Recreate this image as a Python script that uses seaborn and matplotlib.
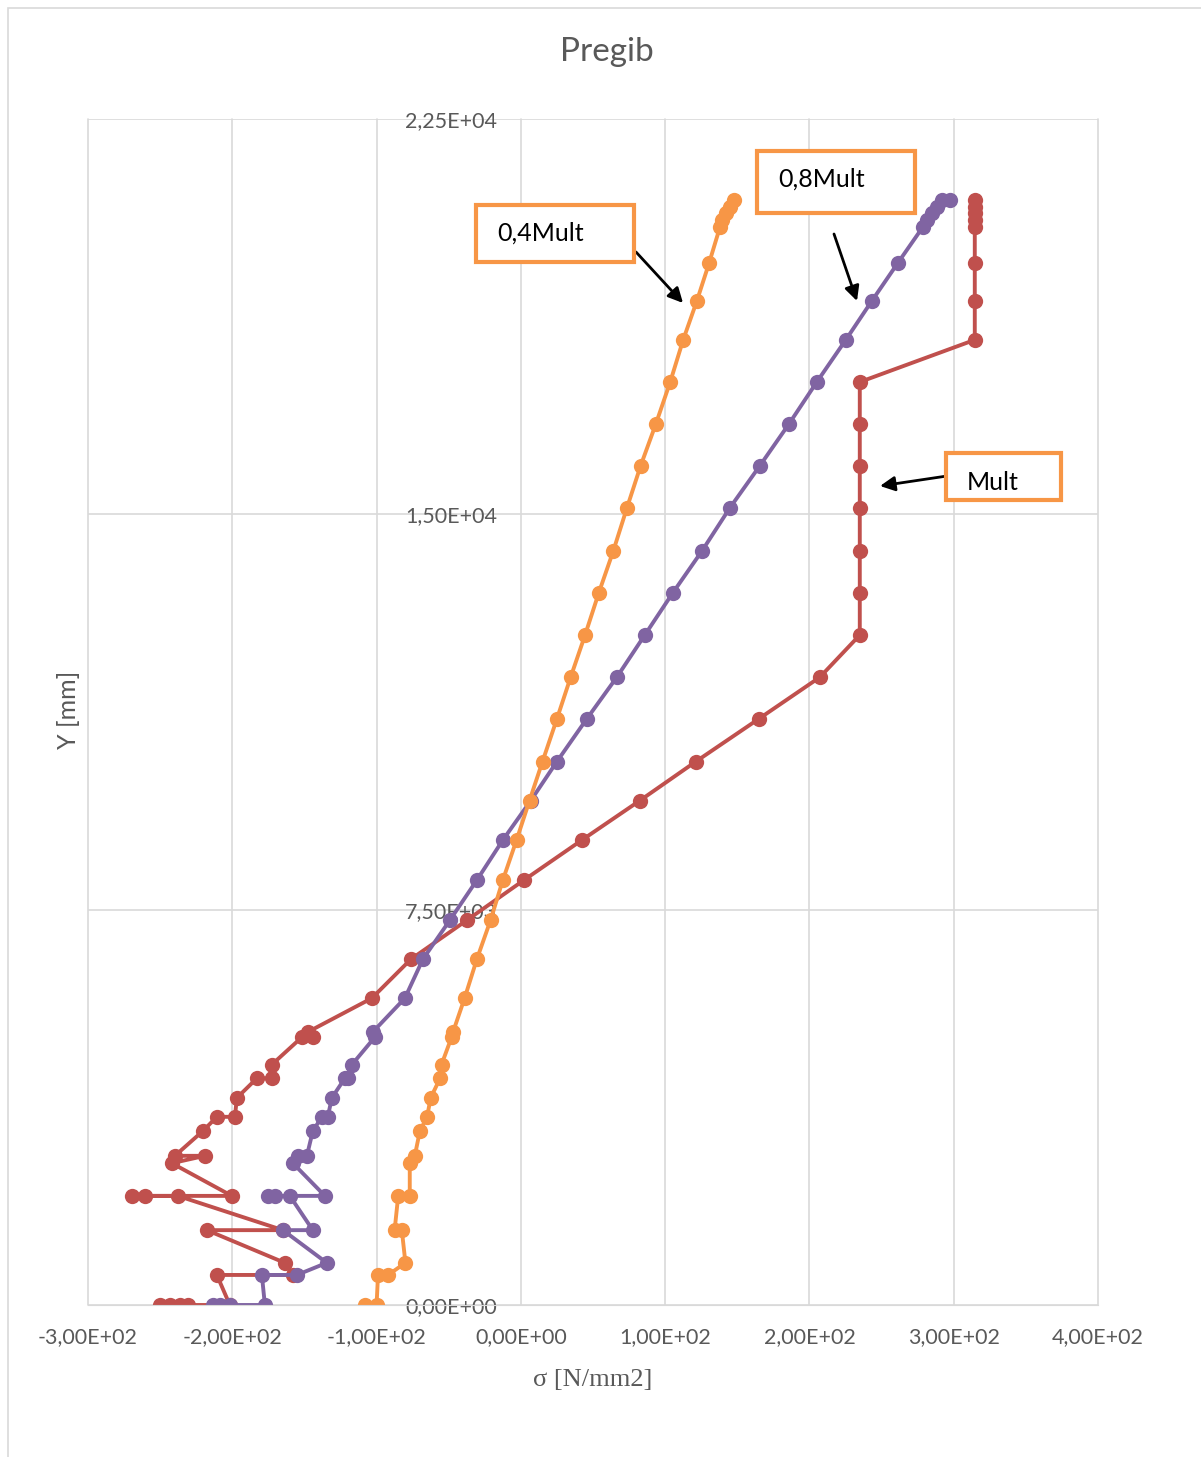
import seaborn as sns
import matplotlib.pyplot as plt
from matplotlib.patches import Rectangle
from matplotlib.ticker import FuncFormatter

# stress sigma [N/mm2] vs height Y [mm], points in path order (bottom -> top)
y_04 = [0, 0, 570, 570, 800, 1420, 1420, 2070, 2070, 2690, 2830, 3300, 3570, 3930,
        4300, 4560, 5080, 5180, 5820, 6560, 7300, 8060, 8820, 9570, 10310, 11120,
        11910, 12710, 13510, 14300, 15120, 15920, 16710, 17510, 18310, 19050, 19770,
        20450, 20580, 20720, 20830, 20960]
sig_04 = [-108, -100, -99, -92, -80, -82.5, -87.5, -85, -77, -77, -73.5, -70, -65, -62.5,
          -56, -55, -48, -47, -39, -30.5, -21, -12.5, -3, 6, 15, 25,
          34.5, 44.5, 54, 64, 73.5, 83, 93.5, 103.5, 112.5, 122, 130.5,
          138, 139.5, 142, 145, 147.5]

y_08 = [0, 0, 0, 0, 570, 570, 800, 1420, 1420, 2070, 2070, 2070, 2070, 2690, 2830, 2830,
        3300, 3570, 3570, 3930, 4300, 4300, 4560, 5080, 5180, 5820, 6560, 7300, 8060,
        8820, 9570, 10310, 11120, 11910, 12710, 13510, 14300, 15120, 15920, 16710,
        17510, 18310, 19050, 19770, 20450, 20580, 20720, 20830, 20960, 20960]
sig_08 = [-213.5, -208.6, -201.7, -177.4, -179.5, -155.2, -134.5, -164.9, -144.2,
          -160.1, -170.5, -175.3, -135.8, -158.0, -154.5, -148.3,
          -144.2, -137.9, -133.8, -131.0, -122.0, -119.9, -117.1, -101.2, -102.6,
          -80.4, -67.9, -49.2, -30.5, -12.5, 6.9, 25.0, 45.7, 66.5, 85.9, 105.3,
          125.4, 144.8, 165.6, 185.7, 205.1, 225.2, 243.3, 261.3,
          278.6, 281.4, 284.8, 288.3, 291.8, 297.3]

y_mult = [0, 0, 0, 0, 0, 570, 570, 800, 1420, 1420, 2070, 2070, 2070, 2070, 2690,
          2830, 2830, 3300, 3570, 3570, 3930, 4300, 4300, 4560, 5080, 5080, 5180,
          5820, 6560, 7300, 8060, 8820, 9570, 10310, 11120, 11910, 12710, 13510,
          14300, 15120, 15920, 16710, 17510, 18310, 19050, 19770,
          20450, 20580, 20720, 20830, 20960]
sig_mult = [-250.2, -243.3, -236.3, -230.8, -201.7, -210.7, -158.0, -163.6, -217.6,
            -164.9, -237.7, -269.6, -260.6, -200.3, -241.9,
            -219.0, -239.8, -220.4, -210.7, -198.2, -196.8, -183.0, -172.6, -172.6,
            -151.8, -144.2, -147.6,
            -103.3, -76.2, -37.4, 2.1, 42.3, 82.5, 121.3, 164.9, 207.2, 234.9, 234.9,
            234.9, 234.9, 234.9, 234.9, 234.9, 314.6, 314.6, 314.6,
            314.6, 314.6, 314.6, 314.6, 314.6]

x_ticks = [-300, -200, -100, 0, 100, 200, 300, 400]
y_ticks = [0, 7500, 15000, 22500]

c_04 = '#F79646'
c_08 = '#8064A2'
c_mult = '#C0504D'
gray = '#595959'

sns.set_style('white')
plt.rcParams['font.family'] = ['Lato', 'DejaVu Sans']

W, H = 1201, 1457
fig = plt.figure(figsize=(W / 100, H / 100), dpi=100)
ax = fig.add_axes([88 / W, 1 - 1305 / H, (1098 - 88) / W, (1305 - 119) / H])

style = dict(sort=False, estimator=None, marker='o', markersize=11,
             markeredgewidth=0, linewidth=2.8, ax=ax)
sns.lineplot(x=sig_mult, y=y_mult, color=c_mult, **style)
sns.lineplot(x=sig_08, y=y_08, color=c_08, **style)
sns.lineplot(x=sig_04, y=y_04, color=c_04, **style)

ax.set_xlim(-300, 400)
ax.set_ylim(0, 22500)
ax.set_xticks(x_ticks)
ax.set_yticks(y_ticks)
fmt = FuncFormatter(lambda v, p: f'{v:.2E}'.replace('.', ','))
ax.xaxis.set_major_formatter(fmt)
ax.yaxis.set_major_formatter(fmt)
ax.grid(True, color='#D9D9D9', linewidth=1.2)
ax.set_axisbelow(True)
for g in ax.get_xgridlines() + ax.get_ygridlines():
    g.set_clip_on(False)
for s in ['top', 'right', 'left']:
    ax.spines[s].set_visible(False)
ax.spines['bottom'].set_color('#D9D9D9')
ax.spines['left'].set_position(('data', 0))
ax.tick_params(axis='both', length=0, labelsize=15.5, labelcolor=gray)
ax.tick_params(axis='x', pad=16)
ax.tick_params(axis='y', pad=17)

ax.set_xlabel('σ [N/mm2]', family=['Liberation Serif', 'DejaVu Serif'],
              fontsize=19, color=gray, labelpad=16)
ax.set_ylabel('')
fig.text(68 / W, 1 - 710 / H, 'Y [mm]', rotation=90, ha='center', va='center',
         fontsize=18, color=gray)
fig.text(607 / W, 1 - 52 / H, 'Pregib', ha='center', va='center',
         fontsize=24, color=gray)

# outer chart border
fig.patches.append(Rectangle((8 / W, -0.1), 1.2, 1.1 - 8 / H, transform=fig.transFigure,
                             fill=False, edgecolor='#D9D9D9', linewidth=1.2))

# callout boxes: label, box left/top/right/bottom, text x, text center y (pixels)
boxes = [('0,4Mult', 476, 205, 634, 262, 497, 233),
         ('0,8Mult', 757, 151, 915, 213, 778, 179),
         ('Mult', 946, 453, 1061, 500, 967, 483)]
for label, x0, y0, x1, y1, tx, ty in boxes:
    fig.patches.append(Rectangle((x0 / W, 1 - y1 / H), (x1 - x0) / W, (y1 - y0) / H,
                                 transform=fig.transFigure, facecolor='white',
                                 edgecolor=c_04, linewidth=3, zorder=5))
    fig.text(tx / W, 1 - ty / H, label, ha='left', va='center',
             fontsize=18, color='black', zorder=6)

arrows = [((636, 252), (683, 303)), ((834, 234), (857, 301)), ((947, 476), (880, 486))]
for (sx, sy), (ex, ey) in arrows:
    ax.annotate('', xy=(ex, H - ey), xycoords='figure pixels',
                xytext=(sx, H - sy), textcoords='figure pixels',
                arrowprops=dict(arrowstyle='-|>', color='black', lw=2,
                                mutation_scale=22, shrinkA=0, shrinkB=0))

fig.savefig('out.png', dpi=100)
